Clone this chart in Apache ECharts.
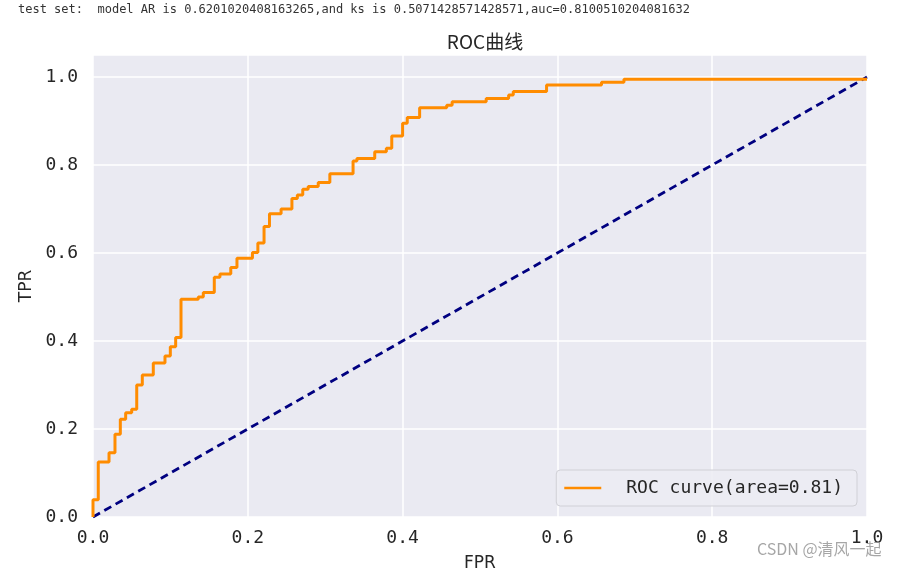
<!DOCTYPE html>
<html>
<head>
<meta charset="utf-8">
<script src="https://cdn.jsdelivr.net/npm/echarts@6/dist/echarts.min.js"></script>
<style>
html,body{margin:0;padding:0;background:#fff;}
#chart{width:907px;height:569px;}
</style>
</head>
<body>
<div id="chart"></div>
<script>
var headerText = 'test set:  model AR is 0.6201020408163265,and ks is 0.5071428571428571,auc=0.8100510204081632';
var chartTitle = 'ROC曲线';
var legendName = 'ROC curve(area=0.81)';
var xTicks = [0, 0.2, 0.4, 0.6, 0.8, 1.0];
var yTicks = [0, 0.2, 0.4, 0.6, 0.8, 1.0];

// ROC step points
var fpr = [0, 0, 0.0068, 0.0068, 0.0207, 0.0207, 0.0284, 0.0284, 0.0353, 0.0353, 0.0422, 0.0422,
  0.050, 0.050, 0.0565, 0.0565, 0.0637, 0.0637, 0.0779, 0.0779, 0.093, 0.093, 0.0999, 0.0999,
  0.1068, 0.1068, 0.1137, 0.1137, 0.136, 0.136, 0.1425, 0.1425, 0.1567, 0.1567, 0.164, 0.164,
  0.178, 0.178, 0.186, 0.186, 0.206, 0.206, 0.213, 0.213, 0.221, 0.221, 0.228, 0.228,
  0.243, 0.243, 0.257, 0.257, 0.264, 0.264, 0.271, 0.271, 0.278, 0.278, 0.291, 0.291,
  0.306, 0.306, 0.336, 0.336, 0.341, 0.341, 0.364, 0.364, 0.379, 0.379, 0.386, 0.386,
  0.400, 0.400, 0.406, 0.406, 0.422, 0.422, 0.457, 0.457, 0.464, 0.464, 0.508, 0.508,
  0.537, 0.537, 0.543, 0.543, 0.586, 0.586, 0.657, 0.657, 0.686, 0.686, 1.0];
var tpr = [0, 0.039, 0.039, 0.125, 0.125, 0.146, 0.146, 0.188, 0.188, 0.222, 0.222, 0.237,
  0.237, 0.245, 0.245, 0.300, 0.300, 0.323, 0.323, 0.350, 0.350, 0.366, 0.366, 0.387,
  0.387, 0.408, 0.408, 0.495, 0.495, 0.500, 0.500, 0.510, 0.510, 0.545, 0.545, 0.552,
  0.552, 0.567, 0.567, 0.588, 0.588, 0.601, 0.601, 0.623, 0.623, 0.660, 0.660, 0.689,
  0.689, 0.700, 0.700, 0.724, 0.724, 0.732, 0.732, 0.745, 0.745, 0.751, 0.751, 0.760,
  0.760, 0.780, 0.780, 0.809, 0.809, 0.815, 0.815, 0.830, 0.830, 0.838, 0.838, 0.866,
  0.866, 0.895, 0.895, 0.908, 0.908, 0.930, 0.930, 0.936, 0.936, 0.944, 0.944, 0.951,
  0.951, 0.959, 0.959, 0.967, 0.967, 0.982, 0.982, 0.988, 0.988, 0.995, 0.995];
var diagX = [0, 1];
var diagY = [0, 1];

var rocData = fpr.map(function (x, i) { return [x, tpr[i]]; });
var diagData = diagX.map(function (x, i) { return [x, diagY[i]]; });

var chart = echarts.init(document.getElementById('chart'), null, {renderer: 'canvas'});
var monoFont = '"DejaVu Sans Mono", "Liberation Mono", monospace';
var option = {
  animation: false,
  backgroundColor: '#ffffff',
  title: {
    text: chartTitle,
    left: 480, top: 27, textAlign: 'center',
    textStyle: {fontFamily: '"Noto Sans CJK SC", sans-serif', fontSize: 19, fontWeight: 'normal', color: '#262626'}
  },
  grid: {
    left: 93, right: 40, top: 55, bottom: 52,
    outerBoundsMode: 'none', containLabel: false,
    show: true, backgroundColor: '#eaeaf2', borderWidth: 0
  },
  legend: {
    data: [{name: legendName, icon: 'rect'}],
    right: 50, top: 470,
    orient: 'horizontal',
    backgroundColor: 'rgba(236,236,243,0.9)',
    borderColor: '#d0d0d6', borderWidth: 1, borderRadius: 4,
    padding: [9, 14, 9, 8],
    itemWidth: 37, itemHeight: 2.5,
    textStyle: {fontFamily: monoFont, fontSize: 18, color: '#262626', padding: [0, 0, 0, 20]}
  },
  xAxis: {
    type: 'value', min: 0, max: 1, interval: 0.2,
    name: 'FPR', nameLocation: 'middle', nameGap: 38,
    nameTextStyle: {fontFamily: '"DejaVu Sans", sans-serif', fontSize: 17, color: '#262626'},
    axisLine: {show: false}, axisTick: {show: false},
    axisLabel: {
      margin: 12, fontFamily: monoFont, fontSize: 18, color: '#262626',
      formatter: function (v) { return v.toFixed(1); }
    },
    splitLine: {show: true, lineStyle: {color: '#ffffff', width: 1.5}}
  },
  yAxis: {
    type: 'value', min: 0, max: 1.05, interval: 0.2,
    name: 'TPR', nameLocation: 'middle', nameGap: 52, nameRotate: 90,
    nameTextStyle: {fontFamily: '"DejaVu Sans", sans-serif', fontSize: 17, color: '#262626'},
    axisLine: {show: false}, axisTick: {show: false},
    axisLabel: {
      margin: 15, fontFamily: monoFont, fontSize: 18, color: '#262626', showMaxLabel: false,
      formatter: function (v) { return v.toFixed(1); }
    },
    splitLine: {show: true, lineStyle: {color: '#ffffff', width: 1.5}}
  },
  graphic: [
    {type: 'text', left: 18, top: 4, style: {text: headerText, font: '12px "DejaVu Sans Mono", monospace', fill: '#333333'}},
    {type: 'text', left: 757, top: 541, z: 100, style: {text: 'CSDN @清风一起', font: '16px "Noto Sans CJK SC", sans-serif', fill: 'rgba(150,150,150,0.85)'}}
  ],
  series: [
    {
      name: legendName, type: 'line', data: rocData,
      showSymbol: false, symbol: 'none',
      lineStyle: {color: '#ff8c00', width: 3},
      itemStyle: {color: '#ff8c00'},
      z: 3
    },
    {
      name: 'diag', type: 'line', data: diagData,
      showSymbol: false, symbol: 'none',
      lineStyle: {color: '#000080', width: 2.8, type: [8, 5]},
      itemStyle: {color: '#000080'},
      z: 2
    }
  ]
};
chart.setOption(option);
</script>
</body>
</html>
